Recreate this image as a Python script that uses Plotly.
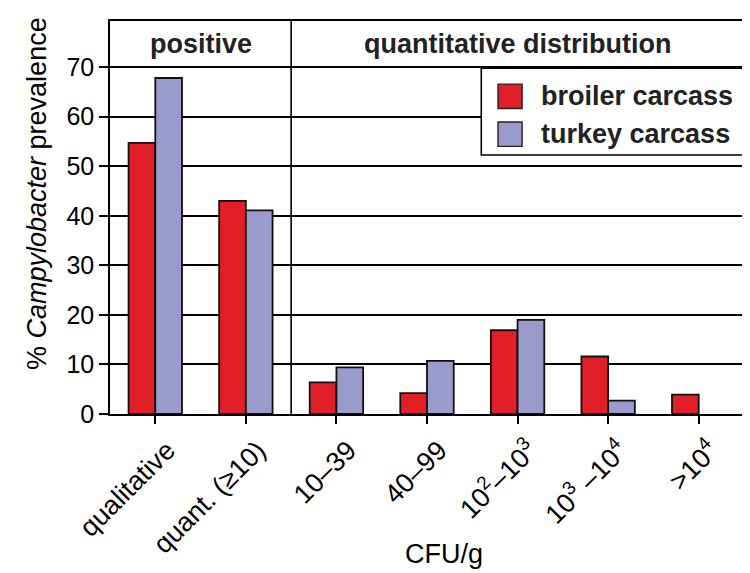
import plotly.graph_objects as go

categories = ["qualitative", "quant. (≥10)", "10–39", "40–99",
              "10<sup>2</sup>–10<sup>3</sup>", "10<sup>3</sup> –10<sup>4</sup>", ">10<sup>4</sup>"]
broiler = [54.7, 43.0, 6.4, 4.2, 16.9, 11.6, 3.9]
turkey = [67.8, 41.1, 9.4, 10.7, 19.0, 2.7, 0]
series_names = ["broiler carcass", "turkey carcass"]
colors = ["#e01f29", "#9a9acd"]
group_labels = ["positive", "quantitative distribution"]
y_ticks = [0, 10, 20, 30, 40, 50, 60, 70]

FONT = "Liberation Sans, Arial, sans-serif"
x_idx = list(range(len(categories)))

fig = go.Figure()
for name, vals, col in zip(series_names, [broiler, turkey], colors):
    fig.add_trace(go.Bar(
        x=x_idx, y=vals, name=name,
        marker=dict(color=col, line=dict(color="#111", width=[1.8 if v > 0 else 0 for v in vals])),
        showlegend=False,
    ))

YMAX = 79.3
fig.update_layout(
    width=750, height=573,
    margin=dict(l=102, r=14, t=13, b=167),
    paper_bgcolor="white", plot_bgcolor="white",
    barmode="group", bargap=0.41, bargroupgap=0,
    font=dict(family=FONT, color="black", size=25),
    xaxis=dict(
        tickmode="array", tickvals=x_idx, ticktext=categories,
        range=[-0.5, len(categories) - 0.5],
        tickangle=-45, ticks="outside", ticklen=8, tickwidth=1.6, tickcolor="black",
        tickson="boundaries", ticklabelshift=12,
        showline=True, linecolor="black", linewidth=1.6, mirror=True,
        showgrid=False, zeroline=False, automargin=False,
        tickfont=dict(size=27, family=FONT),
    ),
    yaxis=dict(
        range=[0, YMAX], tickvals=y_ticks,
        ticks="outside", ticklen=9, tickwidth=1.6, tickcolor="black",
        showline=True, linecolor="black", linewidth=1.6, mirror=True,
        showgrid=True, gridcolor="black", gridwidth=1.6, zeroline=False, automargin=False,
        tickfont=dict(size=25, family=FONT),
    ),
)

# header band separator and group divider
fig.add_shape(type="line", xref="x", yref="y", x0=1.5, x1=1.5, y0=0, y1=YMAX,
              line=dict(color="black", width=1.6), layer="above")
fig.add_annotation(x=0.5, y=74.6, xref="x", yref="y", text="<b>" + group_labels[0] + "</b>",
                   showarrow=False, font=dict(size=27, family=FONT, color="#222"))
fig.add_annotation(x=4.0, y=74.6, xref="x", yref="y", text="<b>" + group_labels[1] + "</b>",
                   showarrow=False, font=dict(size=27, family=FONT, color="#222"))

# custom legend
lx0, lx1, ly0, ly1 = 0.5856, 1.0, 0.659, 0.880
fig.add_shape(type="rect", xref="paper", yref="paper", x0=lx0, x1=lx1, y0=ly0, y1=ly1,
              fillcolor="white", line=dict(color="black", width=1.6), layer="above")
row_y = [0.8085, 0.712]
for name, col, ry in zip(series_names, colors, row_y):
    fig.add_shape(type="rect", xref="paper", yref="paper",
                  x0=0.612, x1=0.650, y0=ry - 0.031, y1=ry + 0.031,
                  fillcolor=col, line=dict(color="#222", width=1.4), layer="above")
    fig.add_annotation(xref="paper", yref="paper", x=0.677, y=ry, xanchor="left", yanchor="middle",
                       text="<b>" + name + "</b>", showarrow=False,
                       font=dict(size=27, family=FONT, color="#222"))

# axis titles
fig.add_annotation(xref="paper", yref="paper", x=0.527, y=-0.355, yanchor="middle",
                   text="CFU/g", showarrow=False, font=dict(size=27, family=FONT))
fig.add_annotation(xref="paper", yref="paper", x=-0.115, y=0.56, xanchor="center", yanchor="middle",
                   text="% <i>Campylobacter</i> prevalence", textangle=-90, showarrow=False,
                   font=dict(size=27, family=FONT))

fig.write_html("out.html")
